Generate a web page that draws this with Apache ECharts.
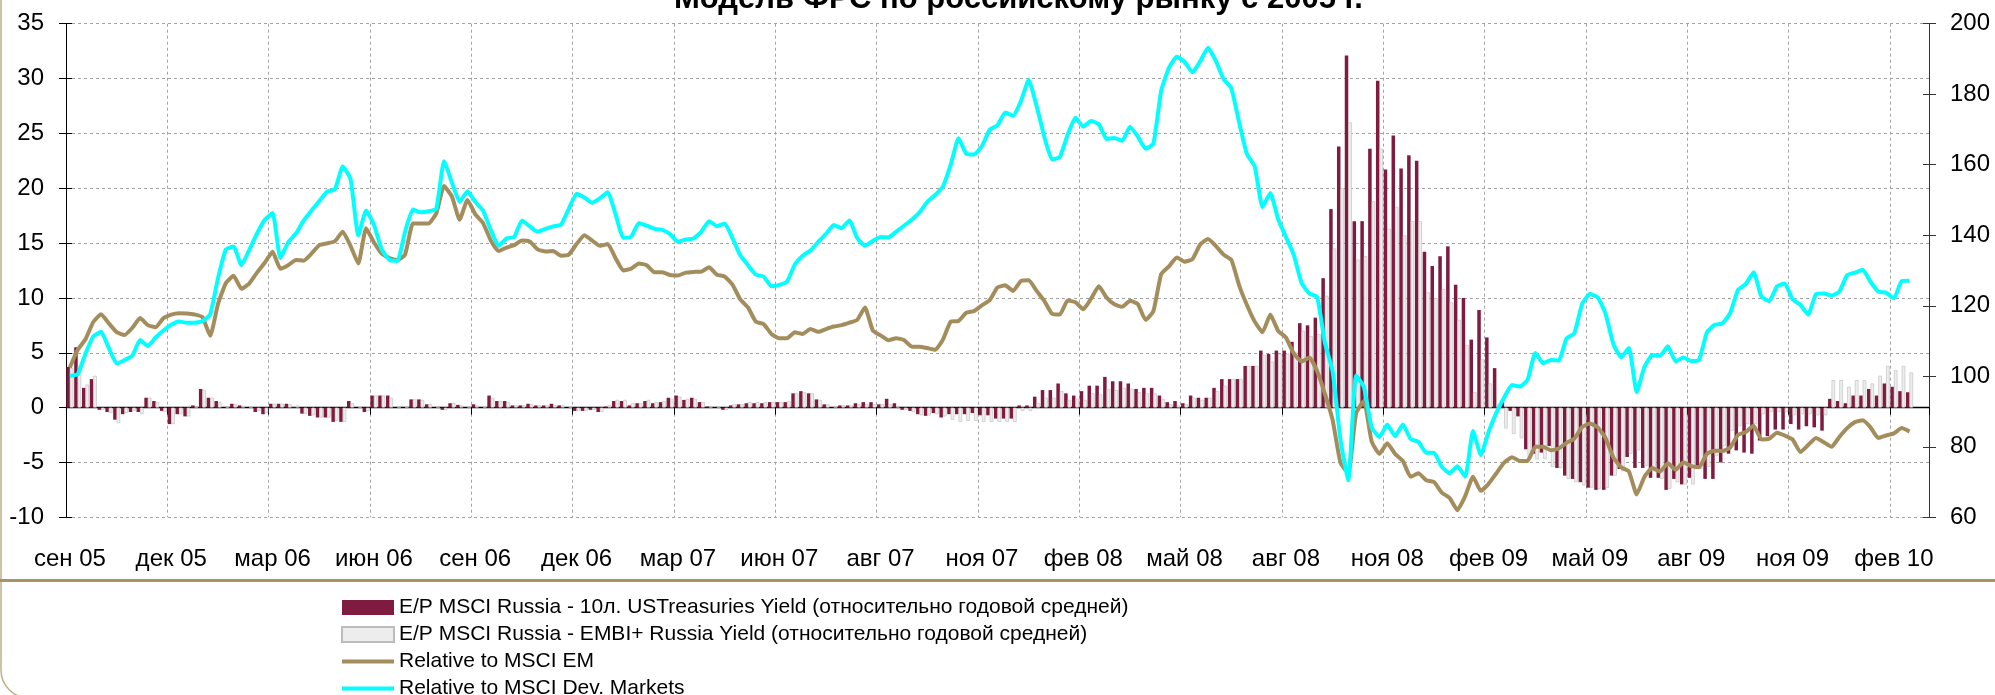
<!DOCTYPE html>
<html><head><meta charset="utf-8">
<script src="https://cdn.jsdelivr.net/npm/echarts/dist/echarts.min.js"></script>
<style>html,body{margin:0;padding:0;background:#fff}#c{width:1995px;height:695px}</style>
</head><body><div id="c"></div>
<script>
// Tick labels every 13 weeks (weekly data from early Sep 2005)
const tickLabels = ['сен 05','дек 05','мар 06','июн 06','сен 06','дек 06','мар 07','июн 07','авг 07','ноя 07','фев 08','май 08','авг 08','ноя 08','фев 09','май 09','авг 09','ноя 09','фев 10'];
const weekCount = 239;

// E/P MSCI Russia - 10y UST yield (vs annual mean), left axis
const usTreasurySpread = [
3.7,5.5,1.8,2.6,-0.2,-0.4,-1.1,-0.6,-0.4,-0.4,
0.9,0.6,-0.3,-1.5,-0.6,-0.8,0.2,1.7,0.9,0.6,
0,0.35,0.2,0,-0.4,-0.6,0.35,0.35,0.35,0.05,
-0.55,-0.75,-0.9,-0.9,-1.3,-1.3,0.6,0,-0.4,1.1,
1.1,1.1,0,0,0.75,0.75,0.3,0,-0.2,0.4,
0.25,0,0.3,0,1.1,0.6,0.6,0.2,0.2,0.35,
0.2,0.2,0.35,0.2,0,-0.3,-0.3,-0.2,-0.4,0.1,
0.6,0.6,0.2,0.4,0.6,0.4,0.5,0.9,1.1,0.7,
0.9,0.5,0.1,0,-0.2,0.2,0.3,0.4,0.4,0.4,
0.5,0.5,0.5,1.3,1.5,1.3,0.75,0.3,0,0.2,
0.2,0.4,0.5,0.5,0.3,0.8,0.4,-0.2,-0.3,-0.6,
-0.75,-0.5,-0.9,-0.6,-0.6,-0.6,-0.5,-0.7,-0.7,-1.0,
-1.0,-1.0,0.2,0.2,1.0,1.6,1.6,2.2,1.3,1.1,
1.5,2.0,2.0,2.8,2.4,2.4,2.2,1.7,1.8,1.8,
1.1,0.5,0.6,0.4,1.1,0.9,0.9,1.8,2.6,2.6,
2.6,3.8,3.8,5.2,4.9,5.2,5.2,6.0,7.7,7.5,
8.2,11.8,18.1,23.8,32.1,17.0,17.0,23.6,29.8,21.7,
24.8,21.8,23.0,22.5,14.2,12.9,13.8,14.7,11.2,10.0,
6.2,8.9,6.4,3.6,0.5,-0.3,-0.8,-3.8,-4.2,-4.1,
-3.5,-5.5,-6.2,-6.5,-6.8,-7.3,-7.5,-7.5,-6.2,-5.6,
-4.5,-5.5,-5.5,-6.4,-6.4,-7.5,-6.5,-7.0,-6.4,-5.6,
-6.5,-6.5,-5.0,-4.2,-3.9,-4.1,-4.2,-3.0,-2.6,-2.0,
-2.0,-1.5,-2.0,-1.7,-1.8,-2.1,0.8,0.6,0.4,1.1,
1.1,1.7,1.1,2.2,1.9,1.5,1.4
];

// E/P MSCI Russia - EMBI+ Russia yield (vs annual mean), left axis
const embiSpread = [
3.6,3.8,2.1,2.9,-0.2,-0.5,-1.4,-0.5,-0.3,-0.6,
0.9,0.5,-0.4,-1.5,-0.6,-0.8,0,1.6,0.9,0.5,
0,0.3,0.15,0,-0.3,-0.5,0.35,0.35,0.3,0.2,
-0.55,-0.7,-0.9,-0.9,-1.2,-1.3,0.4,0,-0.3,1.1,
1.1,0.9,0,0,0.75,0.7,0.3,0,-0.2,0.4,
0.2,0,0.2,0,0.9,0.6,0.5,0.2,0.2,0.3,
0.2,0.2,0.2,0.2,0,-0.3,-0.3,-0.2,-0.4,0.2,
0.7,0.7,0.4,0.4,0.7,0.5,0.6,0.8,1.0,0.8,
0.8,0.5,0.1,0,-0.2,0.3,0.3,0.5,0.5,0.5,
0.5,0.5,0.6,1.3,1.4,1.3,0.7,0.3,0,0.2,
0.2,0.3,0.3,0.3,0.3,0.3,0.1,-0.2,-0.4,-0.7,
-0.7,-0.6,-0.8,-1.1,-1.3,-1.2,-1.2,-1.3,-1.3,-1.3,
-1.3,-1.3,-0.3,-0.3,0.4,0.9,0.9,1.5,0.7,0.8,
0.7,1.3,1.2,1.7,1.6,1.8,1.7,1.4,1.3,1.3,
0.8,0.3,0.2,0.3,0.9,0.7,0.9,1.5,2.0,2.6,
2.6,3.8,3.8,4.8,4.2,4.9,4.9,5.1,7.0,6.5,
6.7,10.2,14.5,20.0,26.0,13.5,13.8,18.8,23.6,16.3,
18.3,15.7,17.0,17.0,10.5,10.0,10.8,9.6,8.0,5.7,
1.4,4.4,2.2,0.3,-1.9,-2.4,-2.8,-4.7,-4.7,-4.7,
-5.4,-5.5,-6.5,-6.8,-7.1,-7.3,-7.4,-7.3,-6.2,-5.8,
-4.2,-3.9,-5.3,-5.8,-6.5,-7.4,-6.8,-7.0,-7.0,-5.6,
-5.4,-4.4,-3.5,-2.1,-1.7,-1.5,-1.5,-0.6,-0.4,-0.4,
-0.4,-0.7,-0.6,-0.6,-0.7,-0.7,2.5,2.5,1.9,2.5,
2.5,2.2,2.9,3.8,3.4,3.8,3.2
];

// Relative to MSCI EM, right axis
const relativeEM = [
102.5,107.5,110.5,115.4,117.6,115,112.5,111.7,113.7,116.5,
114.5,113.9,116.5,117.5,117.9,117.8,117.5,116.8,111.5,120.5,
126.4,128.5,124.8,126.3,129.4,132.2,135.3,130.5,131.5,133,
132.8,134.8,137.2,137.7,138.3,141,137,132,142,138,
134.8,133.5,133,134.5,143.3,143.3,143.3,146.2,154,151,
144.4,150,146,143.5,138.5,135.5,136.5,137.2,138.5,138.2,
136,135.4,135.5,134.2,134.5,137.5,140,138.5,137,137.5,
133.5,130,130.5,132,131.5,129.5,129.5,128.7,128.6,129.4,
129.6,129.7,130.9,128.8,128.3,126,121.8,119.5,115.5,114.8,
112,110.8,110.8,112.5,112,113.4,112.6,113.4,114.1,114.5,
115.2,116,119.5,113,111.6,110.2,110.8,110.3,108.4,108.4,
108,107.5,110.4,115.5,115.7,118,118.5,120.1,121.6,125.2,
125.8,124.2,127,127.2,124.3,121.4,117.7,117.5,121.5,121,
119,122,125.5,122.3,120.4,119.7,121.4,120.5,116,118.5,
129,131.2,133.7,132.5,133.2,137.4,138.9,137,134.5,133,
125.8,120.2,115.5,112.5,117.5,112.9,111,106.5,104.2,105.3,
101.5,95,87.5,75.5,72.5,89.5,93,81.5,78,81,
78,76,71.5,72.5,70.5,70,67,65.5,62,66,
71.5,67.5,69.5,72.5,75.5,77,76,76,80,80,
79,79.5,81.1,82.3,85.6,86.6,85.5,82.5,77,74.2,
73,66.5,71.5,74,73,75.3,73.5,75.6,74.5,74.2,
78,78.9,78.8,79.8,83.4,84.2,86,82.1,82.3,84,
83.2,82.1,78.5,80.5,82.5,81.3,80,82.8,85.3,87,
87.5,85.5,82.5,83.2,83.8,85.3,84.3
];

// Relative to MSCI Developed Markets, right axis
const relativeDev = [
100.1,100.6,106.4,111.3,112.6,108,103.6,104.6,105.8,110.3,
108.6,111,113,114.6,115.5,115.2,115.2,115.6,117.6,127.8,
136,136.8,131.5,135.8,140.5,144.4,146.3,133.5,138,140.5,
144.2,147,149.7,152.4,153,159.5,156,140,147,143,
136,133,132.7,141,147.3,146.5,146.8,147.5,161,155,
149.5,152.5,149.5,147,141.5,137,139.1,139.5,144.2,142.5,
141,141.8,142.5,143,147.5,151.8,150.7,149.2,150.5,152.2,
146,139.3,139.6,143.5,142.7,141.8,141.5,140.3,138.1,138.8,
139.1,141,144,142.6,143.3,139.2,134.3,131.5,128.8,128.3,
125.5,125.9,126.9,131.7,134.2,135.7,138.1,140.4,142.9,142,
144.2,139.2,137,138.4,139.5,139.4,141,142.7,144.4,146.5,
149.5,151.4,153.8,160,167.5,163.1,162.9,165.3,169.9,171.2,
174.8,173.9,178,184,176.8,168,161.5,162.2,168.5,173.3,
170.8,172.4,171.5,167.3,167.6,166.8,170.8,168,164.5,166,
181,187.5,190.6,189.2,186.2,189.3,193.2,189.5,184.3,181.7,
172,163,159.5,148,152,144.6,139.5,134.5,126.5,123.5,
122.5,109.5,101.3,82,70.5,100.2,97,85.5,82.8,86.3,
83,86.3,82.2,81.4,78.3,78.3,74.3,72.5,74.5,71.5,
84.5,77.7,84.2,89.7,94,97.5,97.1,99,106.6,103.7,
104.6,104.5,110.7,112.2,120.5,123.3,122.4,117.8,109.2,105.4,
108,95.5,102.7,106,105.8,108.5,104.2,105.3,104.3,104.6,
112.4,114.6,115,118,124.5,126.2,129.5,122.6,121.3,125.5,
126.3,121.8,120.3,117.5,123.3,123.5,122.9,124,128.7,129.4,
130.2,126.8,124,123.7,122.1,127,127.1
];

const seriesNames = [
  'E/P MSCI Russia - 10л. USTreasuries Yield (относительно годовой средней)',
  'E/P MSCI Russia - EMBI+ Russia Yield (относительно годовой средней)',
  'Relative to MSCI EM',
  'Relative to MSCI Dev. Markets'
];

const categories = [];
for (let i = 0; i < weekCount; i++) categories.push(String(i));

const FONT = 'Liberation Sans, Arial, sans-serif';
const gridLine = { color: '#a3a3a3', width: 1, type: [3, 3] };
const lineIcon = 'path://M0,0L52,0L52,4L0,4Z';

const chart = echarts.init(document.getElementById('c'), null, { renderer: 'canvas' });
chart.setOption({
  animation: false,
  backgroundColor: '#ffffff',
  title: {
    text: 'Модель ФРС по российскому рынку с 2005 г.',
    left: 674, top: -16, padding: 0,
    textStyle: { fontFamily: FONT, fontSize: 31, fontWeight: 'bold', color: '#000' }
  },
  graphic: [
    { type: 'rect', silent: true, z: -1,
      shape: { x: 1, y: -40, width: 2100, height: 738, r: 28 },
      style: { fill: 'none', stroke: '#bfb08a', lineWidth: 1.5 } },
    { type: 'line', silent: true,
      shape: { x1: 0, y1: 580.5, x2: 1995, y2: 580.5 },
      style: { stroke: '#a89363', lineWidth: 3 } }
  ],
  legend: {
    orient: 'vertical', left: 341, top: 597, width: 900, height: 140, padding: 0,
    itemWidth: 52, itemHeight: 15, itemGap: 6,
    selectedMode: false,
    textStyle: { fontFamily: FONT, fontSize: 21, color: '#000', lineHeight: 20 },
    data: [
      { name: seriesNames[0], icon: 'rect' },
      { name: seriesNames[1], icon: 'rect' },
      { name: seriesNames[2], icon: lineIcon },
      { name: seriesNames[3], icon: lineIcon }
    ]
  },
  grid: { left: 66, right: 66, top: 23.7, bottom: 177.7, containLabel: false, outerBoundsMode: 'none' },
  xAxis: [
    {
      type: 'category', data: categories, position: 'bottom', boundaryGap: true,
      axisLine: { show: false, onZero: false },
      axisTick: { show: false },
      axisLabel: {
        interval: 12, margin: 30, fontFamily: FONT, fontSize: 24, color: '#000',
        formatter: function (v, idx) { return idx % 13 === 0 ? (tickLabels[idx / 13] || '') : ''; }
      },
      splitLine: { show: true, interval: 12, lineStyle: gridLine }
    },
    {
      type: 'category', data: categories, position: 'bottom', boundaryGap: true,
      axisLine: { show: true, onZero: true, onZeroAxisIndex: 0, lineStyle: { color: '#000', width: 1.3 } },
      axisTick: { show: true, interval: 12, length: 7, lineStyle: { color: '#000' } },
      axisLabel: { show: false },
      splitLine: { show: false }
    }
  ],
  yAxis: [
    {
      type: 'value', position: 'left', min: -10, max: 35, interval: 5,
      axisLine: { show: true, onZero: false, lineStyle: { color: '#000', width: 1 } },
      axisTick: { show: true, length: 7, lineStyle: { color: '#000' } },
      axisLabel: { margin: 22, fontFamily: FONT, fontSize: 24, color: '#000' },
      splitLine: { show: true, lineStyle: gridLine }
    },
    {
      type: 'value', position: 'right', min: 60, max: 200, interval: 20,
      axisLine: { show: true, onZero: false, lineStyle: { color: '#333', width: 1 } },
      axisTick: { show: true, length: 7, lineStyle: { color: '#333' } },
      axisLabel: { margin: 21, fontFamily: FONT, fontSize: 24, color: '#000' },
      splitLine: { show: false }
    },
    {
      type: 'value', position: 'left', min: -10, max: 35, interval: 5,
      axisLine: { show: false, onZero: false },
      axisTick: { show: true, inside: true, length: 6, lineStyle: { color: '#000' } },
      axisLabel: { show: false }, splitLine: { show: false }
    },
    {
      type: 'value', position: 'right', min: 60, max: 200, interval: 20,
      axisLine: { show: false, onZero: false },
      axisTick: { show: true, inside: true, length: 6, lineStyle: { color: '#333' } },
      axisLabel: { show: false }, splitLine: { show: false }
    }
  ],
  series: [
    {
      name: seriesNames[0], type: 'bar', xAxisIndex: 0, yAxisIndex: 0,
      data: usTreasurySpread, barGap: '0%', barCategoryGap: '10%',
      itemStyle: { color: '#7f1b3f' }
    },
    {
      name: seriesNames[1], type: 'bar', xAxisIndex: 0, yAxisIndex: 0,
      data: embiSpread, barGap: '0%', barCategoryGap: '10%',
      itemStyle: { color: '#ededed', borderColor: '#bcbcbc', borderWidth: 0.6 }
    },
    {
      name: seriesNames[2], type: 'line', xAxisIndex: 0, yAxisIndex: 1,
      data: relativeEM, symbol: 'none', smooth: 0.15,
      itemStyle: { color: '#a48d5c' },
      lineStyle: { color: '#a48d5c', width: 4, join: 'round' }
    },
    {
      name: seriesNames[3], type: 'line', xAxisIndex: 0, yAxisIndex: 1,
      data: relativeDev, symbol: 'none', smooth: 0.15,
      itemStyle: { color: '#00ffff' },
      lineStyle: { color: '#00ffff', width: 4, join: 'round' }
    }
  ]
});
</script>
</body></html>
